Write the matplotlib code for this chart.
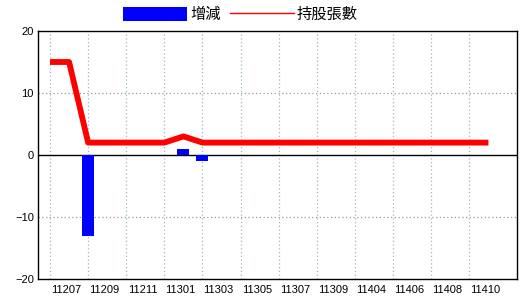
import matplotlib
matplotlib.use('Agg')
import numpy as np
import matplotlib.pyplot as plt
from matplotlib.lines import Line2D

plt.rcParams['font.family'] = ['Liberation Sans', 'Noto Sans CJK TC', 'DejaVu Sans']

months = ['11206', '11207', '11208', '11209', '11210', '11211', '11212', '11301',
          '11302', '11303', '11304', '11305', '11306', '11307', '11308', '11309',
          '11403', '11404', '11405', '11406', '11407', '11408', '11409', '11410']
holdings = [15, 15, 2, 2, 2, 2, 2, 3, 2, 2, 2, 2, 2, 2, 2, 2, 2, 2, 2, 2, 2, 2, 2, 2]
changes = [0, 0, -13, 0, 0, 0, 0, 1, -1, 0, 0, 0, 0, 0, 0, 0, 0, 0, 0, 0, 0, 0, 0, 0]

x = np.arange(len(months))

fig = plt.figure(figsize=(5.2, 3.0), dpi=100)
ax = fig.add_axes([38 / 520, 1 - 279 / 300, 479 / 520, 248 / 300])

bars = ax.bar(x, changes, width=0.63, color='#0000ff', label='增減', zorder=3)
ax.plot(x, holdings, color='#ff0000', linewidth=4.2, solid_capstyle='butt', zorder=4)

ax.set_xlim(-0.63, 24.5)
ax.set_ylim(-20, 20)
ax.set_yticks([-20, -10, 0, 10, 20])

ax.set_xticks(x[1::2] - 0.15)
ax.set_xticklabels(months[1::2])
ax.tick_params(axis='both', which='both', length=0, labelsize=8)
ax.tick_params(axis='x', pad=4)
ax.tick_params(axis='y', pad=3)

ax.grid(False)
for xv in x[0::2]:
    ax.axvline(xv, color='#9bb8c8', linestyle=(0, (1, 2)), linewidth=0.9, zorder=1)
for yv in [-10, 10]:
    ax.axhline(yv, color='#999999', linestyle=(0, (1, 2)), linewidth=0.9, zorder=1)
ax.axhline(0, color='black', linewidth=1.0, zorder=2)

for s in ax.spines.values():
    s.set_linewidth(1.0)

line_handle = Line2D([], [], color='#ff0000', linewidth=1.0)
fig.legend([bars, line_handle], ['增減', '持股張數'], loc='upper center',
           bbox_to_anchor=(0.462, 1.025), ncol=2, frameon=False,
           prop={'family': ['Noto Sans CJK TC', 'DejaVu Sans'], 'size': 11},
           handlelength=4.2, handletextpad=0.2, columnspacing=0.6, handleheight=1.1)

fig.savefig('out.png', dpi=100)
